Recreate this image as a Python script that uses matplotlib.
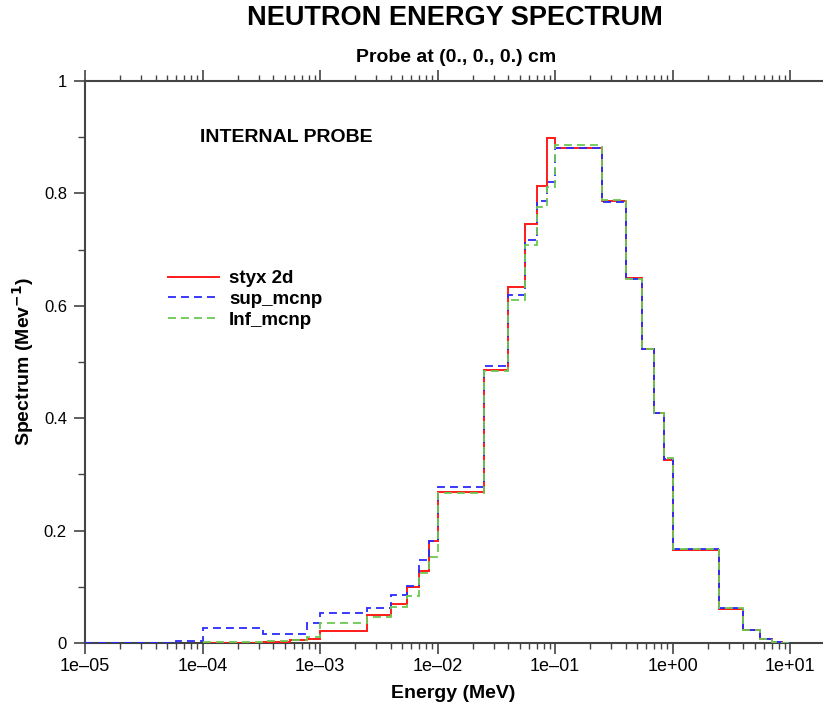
import numpy as np
import matplotlib
matplotlib.use("Agg")
import matplotlib.pyplot as plt
from matplotlib.ticker import FixedLocator, NullFormatter, LogLocator

plt.rcParams['font.family'] = ['Liberation Sans', 'DejaVu Sans']

# Energy group edges (MeV)
edges_low = [1e-5, 6e-5, 1e-4]
edges = [1e-4, 3.25e-4, 5.5e-4, 7.75e-4,
         1e-3, 2.5e-3, 4e-3, 5.5e-3, 7e-3, 8.5e-3,
         1e-2, 2.5e-2, 4e-2, 5.5e-2, 7e-2, 8.5e-2,
         0.1, 0.25, 0.4, 0.55, 0.7, 0.85,
         1.0, 2.5, 4.0, 5.5, 7.0, 8.5, 10.0]

# styx 2d (starts at 1e-4)
styx = [0.0005, 0.002, 0.006, 0.008,
        0.021, 0.050, 0.069, 0.100, 0.128, 0.181,
        0.269, 0.486, 0.633, 0.746, 0.813, 0.898,
        0.881, 0.787, 0.649, 0.523, 0.409, 0.325,
        0.165, 0.060, 0.023, 0.007, 0.001, 0.0]

# sup_mcnp (starts at 1e-5)
sup_low = [0.0005, 0.004]
sup = [0.027, 0.016, 0.016, 0.035,
       0.053, 0.062, 0.085, 0.101, 0.148, 0.181,
       0.277, 0.493, 0.619, 0.717, 0.786, 0.820,
       0.881, 0.785, 0.647, 0.523, 0.409, 0.327,
       0.167, 0.062, 0.023, 0.007, 0.001, 0.0]

# Inf_mcnp (starts at 1e-4)
inf = [0.001, 0.004, 0.005, 0.010,
       0.035, 0.046, 0.064, 0.084, 0.124, 0.153,
       0.267, 0.484, 0.610, 0.708, 0.776, 0.811,
       0.886, 0.788, 0.648, 0.523, 0.409, 0.329,
       0.168, 0.062, 0.023, 0.007, 0.002, 0.0]

xticks = [1e-5, 1e-4, 1e-3, 1e-2, 1e-1, 1e0, 1e1]
xticklabels = ["1e\u201305", "1e\u201304", "1e\u201303", "1e\u201302", "1e\u201301", "1e+00", "1e+01"]
yticks = [0, 0.2, 0.4, 0.6, 0.8, 1.0]
yticklabels = ["0", "0.2", "0.4", "0.6", "0.8", "1"]

W, H = 823, 704
fig = plt.figure(figsize=(W/100, H/100), dpi=100)
ax = fig.add_axes([85/W, 61/H, (822-85)/W, (643-81)/H])

red = '#ff1a1a'
blue = '#2a2aff'
green = '#6cc850'
dash = (0, (4.4, 2.8))

ax.stairs(styx, edges, color=red, lw=1.4, baseline=None, label='styx 2d', zorder=3)
ax.stairs(sup_low + sup, edges_low[:-1] + edges, color=blue, lw=1.3,
          linestyle=dash, baseline=None, label='sup_mcnp', zorder=4)
ax.stairs(inf, edges, color=green, lw=1.3, linestyle=dash, baseline=None,
          label='Inf_mcnp', zorder=5)

ax.set_xscale('log')
ax.set_xlim(1e-5, 10**1.272)
ax.set_ylim(0, 1)

ax.xaxis.set_major_locator(FixedLocator(xticks))
ax.set_xticklabels(xticklabels)
ax.xaxis.set_minor_locator(LogLocator(base=10, subs=np.arange(2, 10)))
ax.xaxis.set_minor_formatter(NullFormatter())
ax.set_yticks(yticks)
ax.set_yticklabels(yticklabels)
ax.set_yticks(np.arange(0.1, 1.0, 0.2), minor=True)

axcol = '#444444'
for s in ['left', 'bottom', 'top']:
    ax.spines[s].set_color(axcol)
    ax.spines[s].set_linewidth(1.5)
ax.spines['right'].set_visible(False)

ax.tick_params(axis='x', which='both', direction='out', top=True, bottom=True,
               labeltop=False, colors=axcol, labelcolor='black', labelsize=13, pad=3)
ax.tick_params(axis='x', which='major', length=8, width=1.2)
ax.tick_params(axis='x', which='minor', length=4, width=1.0)
ax.tick_params(axis='y', which='both', direction='out', right=False,
               colors=axcol, labelcolor='black', labelsize=12, pad=5)
ax.tick_params(axis='y', which='major', length=8, width=1.2)
ax.tick_params(axis='y', which='minor', length=5, width=1.0)

ax.set_xlabel('Energy (MeV)', fontsize=14, fontweight='bold', labelpad=7)
ax.set_ylabel('Spectrum (Mev$^{\\mathbf{-1}}$)', fontsize=14, fontweight='bold',
              va='center')
ax.yaxis.set_label_coords((23 - 85)/737, 0.5)

fig.text(455/W, 1 - 18/H, 'NEUTRON ENERGY SPECTRUM', ha='center', va='center',
         fontsize=19.5, fontweight='bold')
fig.text(456/W, 1 - 58/H, 'Probe at (0., 0., 0.) cm', ha='center', va='center',
         fontsize=14, fontweight='bold')
fig.text(200/W, 1 - 137/H, 'INTERNAL PROBE', ha='left', va='center',
         fontsize=14, fontweight='bold')

leg = ax.legend(loc='upper left', bbox_to_anchor=((168-85)/737, (643-270)/562),
                frameon=False, prop={'weight': 'bold', 'size': 13.5},
                handlelength=2.7, handletextpad=0.55, labelspacing=0.2,
                borderpad=0, borderaxespad=0)

fig.savefig('out.png', dpi=100)
